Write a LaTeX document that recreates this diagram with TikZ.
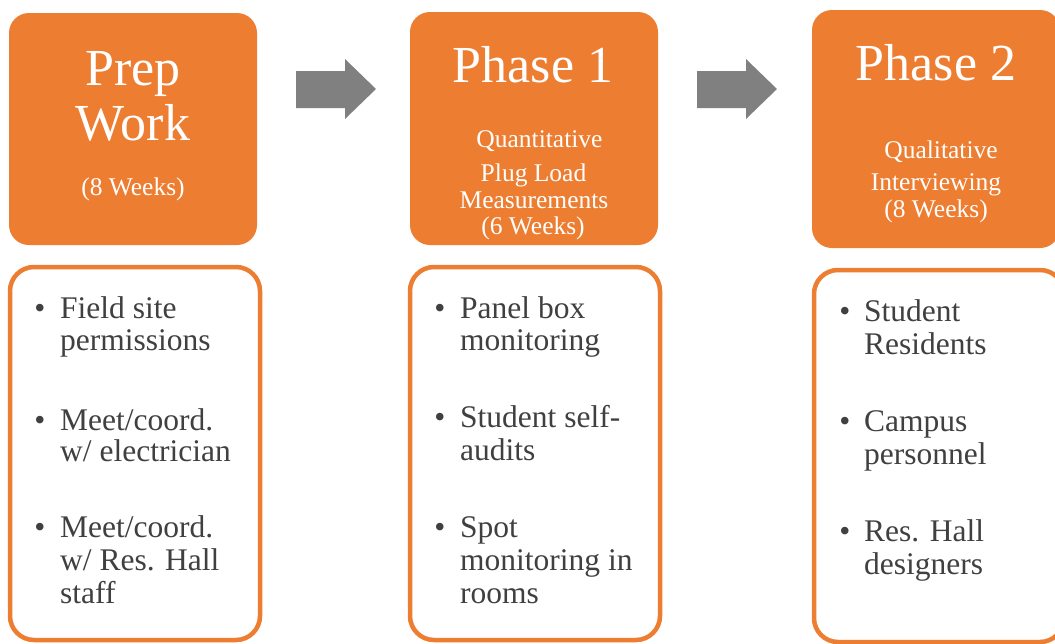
\documentclass[tikz,border=0pt]{standalone}
\usepackage{fontspec}
\setmainfont{Liberation Serif}
\definecolor{ora}{HTML}{ED7D31}
\definecolor{arrgrey}{HTML}{808080}
\definecolor{txtgrey}{HTML}{404040}
\begin{document}
\begin{tikzpicture}[x=1pt,y=-1pt,
  obox/.style={fill=ora,draw=none,rounded corners=20pt,inner sep=0pt},
  wbox/.style={fill=white,draw=ora,line width=4.5pt,rounded corners=24pt,inner sep=0pt},
  ttl/.style={text=white,anchor=base,inner sep=0pt,font=\fontsize{52}{55}\selectfont},
  sub/.style={text=white,anchor=base,inner sep=0pt,font=\fontsize{25.5}{28}\selectfont},
  itm/.style={text=txtgrey,anchor=base west,inner sep=0pt,font=\fontsize{31.5}{33}\selectfont},
  bul/.style={text=txtgrey,anchor=base,inner sep=0pt,font=\fontsize{31.5}{33}\selectfont},
  blockarrow/.style={fill=arrgrey,draw=none}]
\useasboundingbox (0,0) rectangle (1055,643);
\clip (0,0) rectangle (1055,643);
% top orange boxes
\node[obox,minimum width=248pt,minimum height=232pt] (p0) at (133,129) {};
\node[obox,minimum width=248pt,minimum height=233pt] (p1) at (534,128.5) {};
\node[obox,minimum width=248pt,minimum height=238pt] (p2) at (936,129) {};
% block arrows
\path[blockarrow] (296,71) -- (345,71) -- (345,59) -- (376,89) -- (345,119) -- (345,108) -- (296,108) -- cycle;
\path[blockarrow] (697,71) -- (746,71) -- (746,59) -- (777,89) -- (746,119) -- (746,108) -- (697,108) -- cycle;
% titles
\node[ttl] (t0a) at (133,85) {Prep};
\node[ttl] (t0b) at (133,140) {Work};
\node[sub] (s0a) at (133,195) {(8 Weeks)};
\node[ttl] (t1) at (533,82) {Phase 1};
\node[sub] (s1a) at (539.5,147) {Quantitative};
\node[sub] (s1b) at (533.5,181) {Plug Load};
\node[sub] (s1c) at (534,208) {Measurements};
\node[sub] (s1d) at (533,234) {(6 Weeks)};
\node[ttl] (t2) at (936,80) {Phase 2};
\node[sub] (s2a) at (941,158) {Qualitative};
\node[sub] (s2b) at (936,190) {Interviewing};
\node[sub] (s2c) at (936,217) {(8 Weeks)};
% lower white boxes
\node[wbox,minimum width=250pt,minimum height=373pt] (l0) at (135,453.5) {};
\node[wbox,minimum width=250pt,minimum height=373pt] (l1) at (535,453.5) {};
\node[wbox,minimum width=250pt,minimum height=372pt] (l2) at (939,456) {};
% column 1 bullets
\node[bul] (b0a) at (40,318) {\textbullet};
\node[itm] (i0a1) at (60,318) {Field site};
\node[itm] (i0a2) at (60,350) {permissions};
\node[bul] (b0b) at (40,430) {\textbullet};
\node[itm] (i0b1) at (60,430) {Meet/coord.};
\node[itm] (i0b2) at (60,461) {w/ electrician};
\node[bul] (b0c) at (40,537) {\textbullet};
\node[itm] (i0c1) at (60,537) {Meet/coord.};
\node[itm] (i0c2) at (60,570) {w/ Res. Hall};
\node[itm] (i0c3) at (60,603) {staff};
% column 2 bullets
\node[bul] (b1a) at (440,318) {\textbullet};
\node[itm] (i1a1) at (460,318) {Panel box};
\node[itm] (i1a2) at (460,350) {monitoring};
\node[bul] (b1b) at (440,427) {\textbullet};
\node[itm] (i1b1) at (460,427) {Student self-};
\node[itm] (i1b2) at (460,460) {audits};
\node[bul] (b1c) at (440,537) {\textbullet};
\node[itm] (i1c1) at (460,537) {Spot};
\node[itm] (i1c2) at (460,570) {monitoring in};
\node[itm] (i1c3) at (460,603) {rooms};
% column 3 bullets
\node[bul] (b2a) at (845,321) {\textbullet};
\node[itm] (i2a1) at (864,321) {Student};
\node[itm] (i2a2) at (864,354) {Residents};
\node[bul] (b2b) at (845,431) {\textbullet};
\node[itm] (i2b1) at (864,431) {Campus};
\node[itm] (i2b2) at (864,464) {personnel};
\node[bul] (b2c) at (845,541) {\textbullet};
\node[itm] (i2c1) at (864,541) {Res. Hall};
\node[itm] (i2c2) at (864,574) {designers};
\end{tikzpicture}
\end{document}
